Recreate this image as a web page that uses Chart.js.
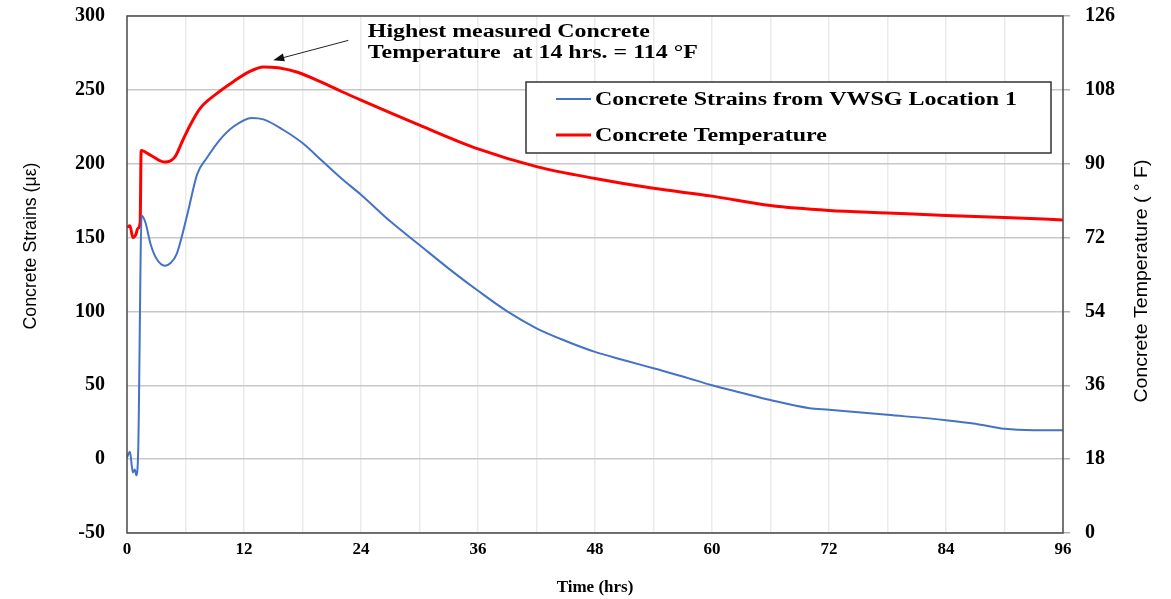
<!DOCTYPE html>
<html>
<head>
<meta charset="utf-8">
<script src="https://cdn.jsdelivr.net/npm/chart.js@4.4.1/dist/chart.umd.min.js"></script>
<style>
  html, body { margin: 0; padding: 0; background: #fff; }
  canvas { display: block; }
</style>
</head>
<body>
<canvas id="myChart" width="1171" height="599"></canvas>
<script>
// strain readings (hrs, microstrain)
var timeStrain = [0, 0.3, 0.6, 0.8, 0.95, 1.15, 1.5, 1.9, 2.4, 3.0, 3.9, 4.5, 5.1, 6.2, 7.2, 8.2, 9.5, 10.9, 12.8, 14, 16, 18, 20, 22, 24, 27, 30, 33, 36, 39, 42, 45, 48, 51, 54, 57, 60, 63, 66, 70, 72, 78, 84, 87, 90, 93, 96];
var strainValues = [1, 5, -9, -7, -11, 6, 165, 160, 146, 136, 131, 133, 139, 166, 193, 204, 216, 225, 231, 230, 223, 214, 202, 190, 179, 161, 145, 129, 114, 100, 88.6, 80, 72.6, 67, 61.5, 56, 50, 45, 40, 34.5, 33.5, 30, 26.4, 24, 20.5, 19.6, 19.6];

// temperature readings (hrs, deg F)
var timeTemp = [0, 0.3, 0.6, 0.9, 1.1, 1.35, 1.45, 2.4, 3.9, 4.9, 5.7, 6.5, 7.5, 9.2, 10.9, 12.5, 14, 15.5, 17.5, 20, 22, 24, 30, 36, 42, 48, 54, 60, 66, 72, 78, 84, 90, 96];
var tempValues = [74.5, 74.9, 72.0, 72.7, 74.2, 75.6, 93.2, 92.1, 90.4, 91.6, 95.6, 99.5, 103.5, 107.1, 110, 112.4, 113.6, 113.4, 112.3, 109.8, 107.6, 105.5, 99.4, 93.6, 89.3, 86.4, 84, 82.1, 79.8, 78.6, 78, 77.4, 76.9, 76.3];

var xTickLabels = [0, 12, 24, 36, 48, 60, 72, 84, 96];
var strainTicks = [-50, 0, 50, 100, 150, 200, 250, 300];
var tempTicks = [0, 18, 36, 54, 72, 90, 108, 126];

var labelStrain = 'Concrete Strains from VWSG Location 1';
var labelTemp = 'Concrete Temperature';
var noteLines = ['Highest measured Concrete', 'Temperature  at 14 hrs. = 114 \u00B0F'];
// note anchor and arrow in data units (hrs, strain)
var noteAt = {x: 24.7, y: 289};
var arrowTail = {x: 22.7, y: 283.5};
var arrowTip = {x: 15, y: 270};

function toPoints(xs, ys) {
    return xs.map(function (x, i) { return {x: x, y: ys[i]}; });
}

var serif = '"Liberation Serif", "Times New Roman", serif';
var narrow = '"Liberation Sans Narrow", "Liberation Sans", Arial, sans-serif';

function drawSideTitle(ctx, text, cx, cy, len) {
    ctx.save();
    ctx.font = '18px ' + narrow;
    ctx.fillStyle = '#000';
    ctx.textAlign = 'center';
    ctx.textBaseline = 'middle';
    var w = ctx.measureText(text).width;
    ctx.translate(cx, cy);
    ctx.rotate(-Math.PI / 2);
    ctx.scale(len / w, 1);
    ctx.fillText(text, 0, 0);
    ctx.restore();
}

// bold serif text stretched horizontally
function drawWide(ctx, text, x, y, sx) {
    ctx.save();
    ctx.translate(x, y);
    ctx.scale(sx, 1);
    ctx.fillText(text, 0, 0);
    ctx.restore();
}

var extras = {
    id: 'extras',
    afterDatasetsDraw: function (chart) {
        var ctx = chart.ctx;
        var a = chart.chartArea;
        var xs = chart.scales.x, ys = chart.scales.y;

        // frame
        ctx.save();
        ctx.strokeStyle = '#4d4d4d';
        ctx.lineWidth = 1.5;
        ctx.strokeRect(a.left, a.top, a.right - a.left, a.bottom - a.top);

        // legend box
        ctx.fillStyle = '#fff';
        ctx.fillRect(526, 82, 525, 71);
        ctx.strokeStyle = '#333';
        ctx.lineWidth = 1.5;
        ctx.strokeRect(526, 82, 525, 71);
        ctx.font = 'bold 18px ' + serif;
        ctx.textBaseline = 'middle';
        ctx.textAlign = 'left';
        var sx = 422 / ctx.measureText(labelStrain).width;
        var rows = [99, 135];
        chart.data.datasets.forEach(function (ds, i) {
            ctx.strokeStyle = ds.borderColor;
            ctx.lineWidth = ds.borderWidth;
            ctx.beginPath();
            ctx.moveTo(556, rows[i]);
            ctx.lineTo(591, rows[i]);
            ctx.stroke();
            ctx.fillStyle = '#000';
            drawWide(ctx, ds.label, 595, rows[i] + 1, sx);
        });

        // note text
        var nx = xs.getPixelForValue(noteAt.x);
        var ny = ys.getPixelForValue(noteAt.y);
        var sx2 = 282 / ctx.measureText(noteLines[0]).width;
        ctx.fillStyle = '#000';
        drawWide(ctx, noteLines[0], nx, ny, sx2);
        drawWide(ctx, noteLines[1], nx, ny + 21, sx2);

        // arrow
        var x0 = xs.getPixelForValue(arrowTail.x), y0 = ys.getPixelForValue(arrowTail.y);
        var x1 = xs.getPixelForValue(arrowTip.x), y1 = ys.getPixelForValue(arrowTip.y);
        var ang = Math.atan2(y1 - y0, x1 - x0);
        ctx.strokeStyle = '#222';
        ctx.lineWidth = 1;
        ctx.beginPath();
        ctx.moveTo(x0, y0);
        ctx.lineTo(x1 - 8 * Math.cos(ang), y1 - 8 * Math.sin(ang));
        ctx.stroke();
        ctx.fillStyle = '#111';
        ctx.beginPath();
        ctx.moveTo(x1, y1);
        ctx.lineTo(x1 - 11 * Math.cos(ang) + 4 * Math.sin(ang), y1 - 11 * Math.sin(ang) - 4 * Math.cos(ang));
        ctx.lineTo(x1 - 11 * Math.cos(ang) - 4 * Math.sin(ang), y1 - 11 * Math.sin(ang) + 4 * Math.cos(ang));
        ctx.closePath();
        ctx.fill();

        // axis titles
        drawSideTitle(ctx, 'Concrete Strains (\u03BC\u03B5)', 31, 246, 167);
        drawSideTitle(ctx, 'Concrete Temperature ( \u00B0 F)', 1142, 281, 243);
        ctx.restore();
    }
};

function fixY(width) {
    return function (s) {
        s.width = width;
        s.paddingTop = 0;
        s.paddingBottom = 0;
    };
}

new Chart('myChart', {
    type: 'line',
    data: {
        datasets: [{
            label: labelStrain,
            data: toPoints(timeStrain, strainValues),
            borderColor: '#4472C4',
            backgroundColor: '#4472C4',
            borderWidth: 2,
            pointRadius: 0,
            cubicInterpolationMode: 'monotone',
            yAxisID: 'y',
            fill: false
        }, {
            label: labelTemp,
            data: toPoints(timeTemp, tempValues),
            borderColor: '#FF0000',
            backgroundColor: '#FF0000',
            borderWidth: 3,
            pointRadius: 0,
            cubicInterpolationMode: 'monotone',
            yAxisID: 'y1',
            fill: false
        }]
    },
    plugins: [extras],
    options: {
        responsive: false,
        animation: false,
        devicePixelRatio: 1,
        layout: { padding: { top: 16, left: 0, right: 0, bottom: 0 } },
        plugins: {
            legend: { display: false },
            tooltip: { enabled: false }
        },
        scales: {
            x: {
                type: 'linear',
                min: 0,
                max: 96,
                afterFit: function (s) {
                    s.height = 66;
                    s.paddingLeft = 0;
                    s.paddingRight = 0;
                },
                ticks: {
                    stepSize: 6,
                    autoSkip: false,
                    maxRotation: 0,
                    padding: 6,
                    color: '#000',
                    font: { family: serif, size: 17, weight: 'bold' },
                    callback: function (v) { return xTickLabels.indexOf(v) >= 0 ? String(v) : ''; }
                },
                grid: { color: '#ebebeb', lineWidth: 1.5, drawTicks: false },
                border: { display: false },
                title: {
                    display: true,
                    text: 'Time (hrs)',
                    color: '#000',
                    font: { family: serif, size: 17, weight: 'bold' },
                    padding: { top: 0, bottom: 1 }
                }
            },
            y: {
                position: 'left',
                min: -50,
                max: 300,
                afterFit: fixY(127),
                afterBuildTicks: function (s) { s.ticks = strainTicks.map(function (v) { return {value: v}; }); },
                ticks: {
                    padding: 22,
                    color: '#000',
                    font: { family: serif, size: 20, weight: 'bold' }
                },
                grid: { color: '#c8c8c8', lineWidth: 1.5, drawTicks: false },
                border: { display: false }
            },
            y1: {
                position: 'right',
                min: 0,
                max: 126,
                afterFit: fixY(108),
                afterBuildTicks: function (s) { s.ticks = tempTicks.map(function (v) { return {value: v}; }); },
                ticks: {
                    padding: 15,
                    color: '#000',
                    font: { family: serif, size: 20, weight: 'bold' }
                },
                grid: { drawOnChartArea: false, tickLength: 7, color: '#b0b0b0', lineWidth: 1.5 },
                border: { display: false }
            }
        }
    }
});
</script>
</body>
</html>
